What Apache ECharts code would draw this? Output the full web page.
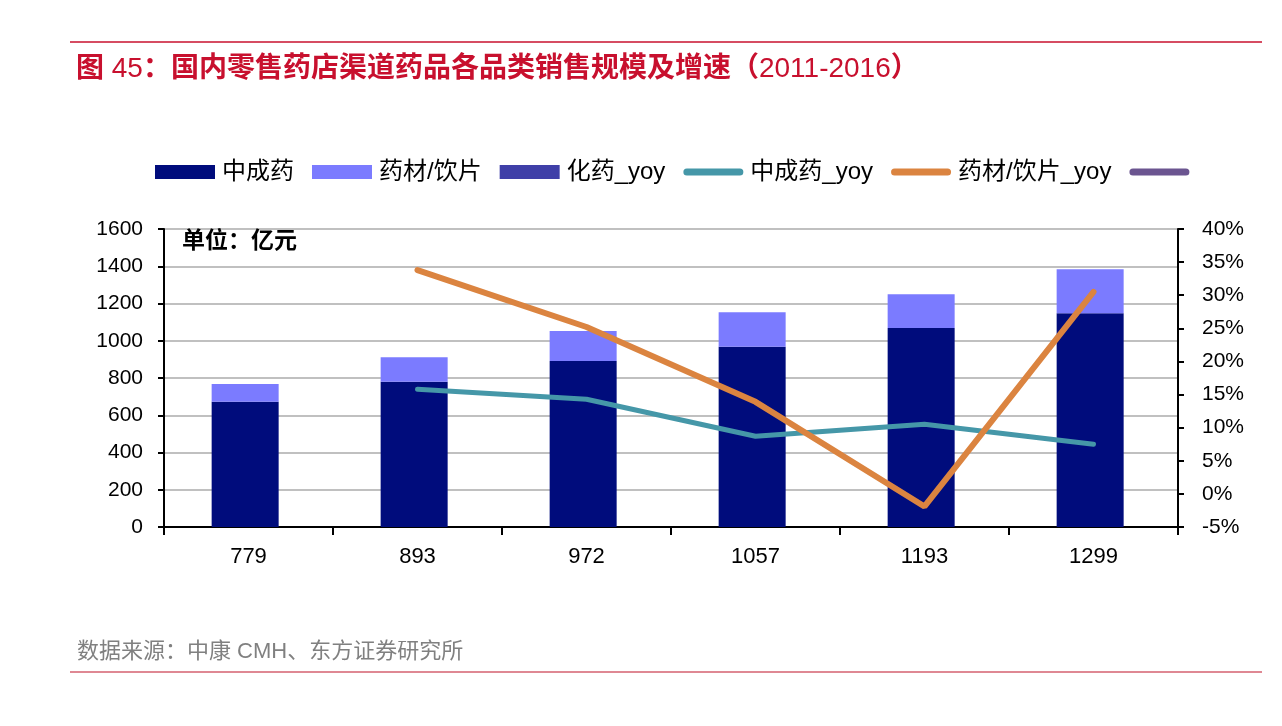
<!DOCTYPE html>
<html>
<head>
<meta charset="utf-8">
<script src="https://cdn.jsdelivr.net/npm/echarts@6/dist/echarts.min.js"></script>
<style>
    html, body { margin: 0; padding: 0; background: #fff; }
    #myChart { width: 1282px; height: 726px; }
</style>
</head>
<body>
<div id="myChart"></div>
<script>
// 数据
let categories = ['779', '893', '972', '1057', '1193', '1299']
let zcyData = [672, 780, 891, 968, 1069, 1148]        // 中成药
let ycypData = [96, 131, 161, 185, 180, 236]           // 药材/饮片（堆叠部分）
let zcyYoy = [null, 15.8, 14.3, 8.7, 10.5, 7.5]       // 中成药_yoy
let ycypYoy = [null, 33.8, 25.2, 13.9, -1.9, 30.5]    // 药材/饮片_yoy
let leftTicks = { min: 0, max: 1600, interval: 200 }
let rightTicks = { min: -5, max: 40, interval: 5 }

let numFont = "'Liberation Sans', Arial, sans-serif"
let cjkFont = "'Liberation Sans', 'Noto Sans CJK SC', sans-serif"
let red = '#c8102e'
// 图例里的线段图标：一条圆头粗线
let lineIcon = 'path://M3.5,0 L56.5,0 A3.5,3.5 0 0 1 56.5,7 L3.5,7 A3.5,3.5 0 0 1 3.5,0 Z'

let myChart = echarts.init(document.getElementById('myChart'))

let option = {
    animation: false,
    title: [
        {
            text: '{b|图 }{n|45}{b|：国内零售药店渠道药品各品类销售规模及增速（}{n|2011-2016}{b|）}',
            left: 76,
            top: 55,
            padding: 0,
            textStyle: {
                rich: {
                    b: { color: red, fontSize: 28, fontWeight: 'bold', fontFamily: cjkFont },
                    n: { color: red, fontSize: 28, fontWeight: 'normal', fontFamily: numFont }
                }
            }
        },
        {
            text: '单位：亿元',
            left: 182,
            top: 228,
            padding: 0,
            textStyle: { color: '#000', fontSize: 23, fontWeight: 'bold', fontFamily: "'Noto Sans CJK SC', sans-serif" }
        },
        {
            text: '数据来源：中康 CMH、东方证券研究所',
            left: 77,
            top: 641,
            padding: 0,
            textStyle: { color: '#808080', fontSize: 22, fontWeight: 'normal', fontFamily: cjkFont }
        }
    ],
    graphic: [
        { type: 'line', shape: { x1: 70, y1: 42, x2: 1262, y2: 42 }, style: { stroke: red, lineWidth: 1.5 } },
        { type: 'line', shape: { x1: 70, y1: 672, x2: 1262, y2: 672 }, style: { stroke: '#d4606f', lineWidth: 1.5 } }
    ],
    legend: {
        left: 155,
        top: 160,
        padding: 0,
        itemWidth: 60,
        itemHeight: 14,
        itemGap: 18,
        textStyle: { fontSize: 24, color: '#000', fontFamily: cjkFont, padding: [0, 0, 0, 2] },
        data: [
            { name: '中成药', icon: 'rect' },
            { name: '药材/饮片', icon: 'rect' },
            { name: '化药_yoy', icon: 'rect' },
            { name: '中成药_yoy', icon: lineIcon },
            { name: '药材/饮片_yoy', icon: lineIcon },
            { name: ' ', icon: lineIcon }
        ]
    },
    grid: { left: 164, right: 104, top: 229, bottom: 199, containLabel: false },
    xAxis: {
        type: 'category',
        data: categories,
        axisLine: { lineStyle: { color: '#000', width: 2 } },
        axisTick: { show: true, length: 8, lineStyle: { color: '#000', width: 2 } },
        axisLabel: { fontSize: 22, color: '#000', margin: 19, fontFamily: numFont }
    },
    yAxis: [
        {
            type: 'value',
            min: leftTicks.min,
            max: leftTicks.max,
            interval: leftTicks.interval,
            axisLine: { show: true, lineStyle: { color: '#000', width: 2 } },
            axisTick: { show: true, length: 6, lineStyle: { color: '#000', width: 2 } },
            axisLabel: { fontSize: 21, color: '#000', margin: 21, fontFamily: numFont, formatter: function (v) { return String(v) } },
            splitLine: { lineStyle: { color: '#c0c0c0', width: 2 } }
        },
        {
            type: 'value',
            min: rightTicks.min,
            max: rightTicks.max,
            interval: rightTicks.interval,
            position: 'right',
            axisLine: { show: true, lineStyle: { color: '#000', width: 2 } },
            axisTick: { show: true, length: 6, lineStyle: { color: '#000', width: 2 } },
            axisLabel: { fontSize: 21, color: '#000', margin: 24, fontFamily: numFont, formatter: '{value}%' },
            splitLine: { show: false }
        }
    ],
    series: [
        {
            name: '中成药',
            type: 'bar',
            stack: 'total',
            barWidth: 67,
            itemStyle: { color: '#000c7c' },
            data: zcyData
        },
        {
            name: '药材/饮片',
            type: 'bar',
            stack: 'total',
            barWidth: 67,
            itemStyle: { color: '#7b7bff' },
            data: ycypData
        },
        {
            name: '化药_yoy',
            type: 'bar',
            itemStyle: { color: '#3f3fa8' },
            data: []
        },
        {
            name: '中成药_yoy',
            type: 'line',
            yAxisIndex: 1,
            symbol: 'none',
            itemStyle: { color: '#4597a8' },
            lineStyle: { color: '#4597a8', width: 5, cap: 'round' },
            data: zcyYoy
        },
        {
            name: '药材/饮片_yoy',
            type: 'line',
            yAxisIndex: 1,
            symbol: 'none',
            itemStyle: { color: '#db8440' },
            lineStyle: { color: '#db8440', width: 6, cap: 'round' },
            data: ycypYoy
        },
        {
            name: ' ',
            type: 'line',
            yAxisIndex: 1,
            symbol: 'none',
            itemStyle: { color: '#6b5590' },
            lineStyle: { color: '#6b5590', width: 6, cap: 'round' },
            data: []
        }
    ]
}

myChart.setOption(option, true)
</script>
</body>
</html>
